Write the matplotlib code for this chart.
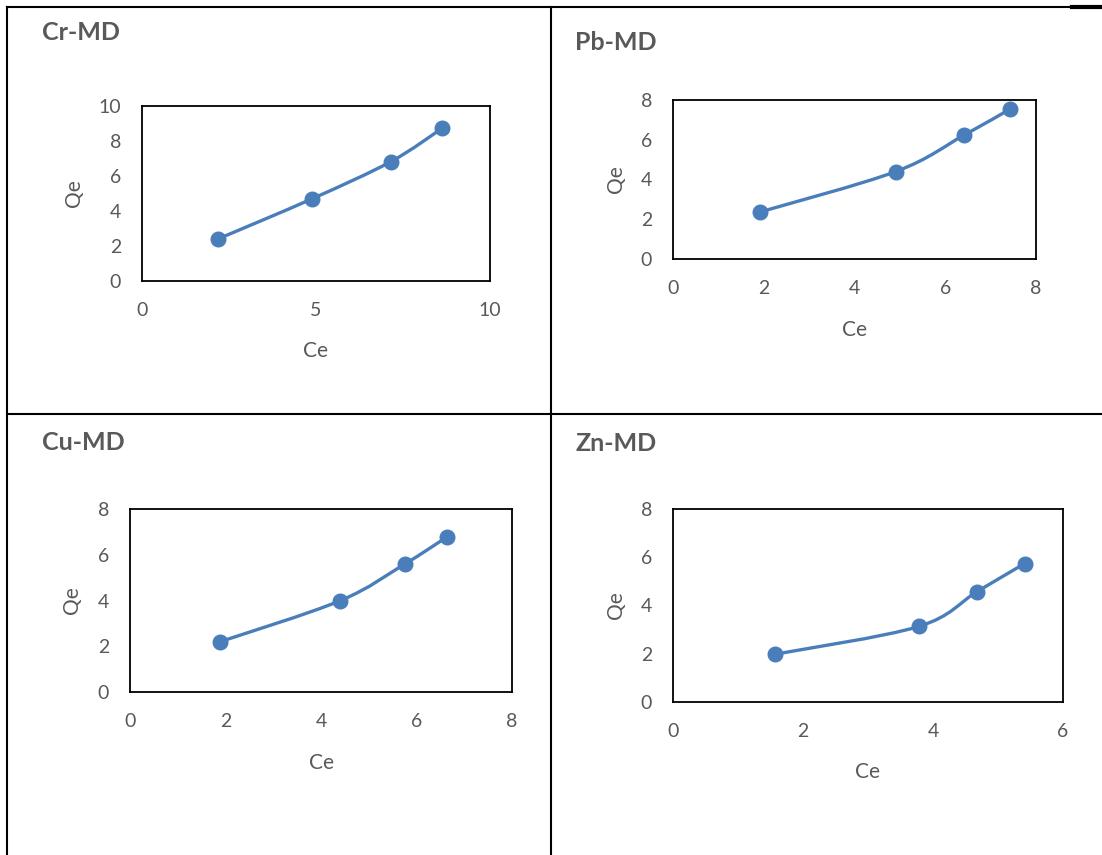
import numpy as np
import matplotlib
matplotlib.use("Agg")
from matplotlib import pyplot as plt
from matplotlib.path import Path
from matplotlib.patches import PathPatch
from matplotlib.lines import Line2D

# ---- data ----
titles = ["Cr-MD", "Pb-MD", "Cu-MD", "Zn-MD"]

cr_ce = [2.18, 4.89, 7.15, 8.62]
cr_qe = [2.40, 4.70, 6.82, 8.72]

pb_ce = [1.91, 4.91, 6.42, 7.42]
pb_qe = [2.36, 4.40, 6.24, 7.53]

cu_ce = [1.89, 4.40, 5.75, 6.64]
cu_qe = [2.20, 3.99, 5.59, 6.78]

zn_ce = [1.57, 3.78, 4.68, 5.41]
zn_qe = [1.98, 3.13, 4.58, 5.74]

x_ticks = [[0, 5, 10], [0, 2, 4, 6, 8], [0, 2, 4, 6, 8], [0, 2, 4, 6]]
y_ticks = [[0, 2, 4, 6, 8, 10], [0, 2, 4, 6, 8], [0, 2, 4, 6, 8], [0, 2, 4, 6, 8]]

series = [(cr_ce, cr_qe), (pb_ce, pb_qe), (cu_ce, cu_qe), (zn_ce, zn_qe)]

# ---- layout (pixels) ----
W, H = 1102, 855
# axes boxes: left, top, right, bottom
boxes = [(142, 106, 490, 281),
         (673, 100, 1036, 259),
         (130, 509, 512, 692),
         (673, 509, 1063, 702)]
title_pos = [(42, 33), (575, 42), (42, 442), (575, 443)]
ylab_x = [74, 616, 72, 616]
xlab_y = [351, 330, 763, 772]

blue = "#4a7ebb"
grey = "#595959"
plt.rcParams['font.family'] = ['Lato', 'DejaVu Sans']


def fx(x):
    return x / W


def fy(y):
    return 1 - y / H


def smooth_path(xs, ys):
    # excel-style smoothed line: bezier segments with catmull-rom handles
    p = np.column_stack([xs, ys])
    n = len(p)
    verts = [p[0]]
    codes = [Path.MOVETO]
    for i in range(n - 1):
        p0 = p[i - 1] if i > 0 else p[i]
        p3 = p[i + 2] if i + 2 < n else p[i + 1]
        c1 = p[i] + (p[i + 1] - p0) / 6.0
        c2 = p[i + 1] - (p3 - p[i]) / 6.0
        verts += [c1, c2, p[i + 1]]
        codes += [Path.CURVE4] * 3
    return Path(verts, codes)


fig = plt.figure(figsize=(W / 100, H / 100), dpi=100)

for k in range(4):
    l, t, r, b = boxes[k]
    ax = fig.add_axes([fx(l), fy(b), (r - l) / W, (b - t) / H])
    xs, ys = series[k]
    ax.add_patch(PathPatch(smooth_path(xs, ys), facecolor="none",
                           edgecolor=blue, lw=2.4, transform=ax.transData))
    ax.plot(xs, ys, "o", color=blue, markersize=10.5, zorder=3)
    ax.set_xlim(x_ticks[k][0], x_ticks[k][-1])
    ax.set_ylim(y_ticks[k][0], y_ticks[k][-1])
    ax.set_xticks(x_ticks[k])
    ax.set_yticks(y_ticks[k])
    ax.tick_params(length=0, labelsize=14, labelcolor=grey, pad=15)
    for s in ax.spines.values():
        s.set_linewidth(1.3)
        s.set_color("black")

    fig.text(fx(title_pos[k][0]), fy(title_pos[k][1]), titles[k], fontsize=18,
             fontweight="bold", color=grey, ha="left", va="center")
    fig.text(fx(ylab_x[k]), fy((t + b) / 2), "Qe", fontsize=15, color=grey,
             rotation=90, ha="center", va="center")
    fig.text(fx((l + r) / 2), fy(xlab_y[k]), "Ce", fontsize=15, color=grey,
             ha="center", va="center")

# table rules around the four cells: (x0, x1), (y0, y1), width
rules = [((7, 7), (7, 855), 1.5),
         ((551, 551), (7, 855), 1.5),
         ((7, 1102), (7, 7), 1.5),
         ((1072, 1102), (7, 7), 3),
         ((7, 1102), (414, 414), 1.5)]
for xx, yy, w in rules:
    fig.add_artist(Line2D([fx(v) for v in xx], [fy(v) for v in yy],
                          transform=fig.transFigure, color="black", lw=w))

fig.savefig("out.png", dpi=100)
